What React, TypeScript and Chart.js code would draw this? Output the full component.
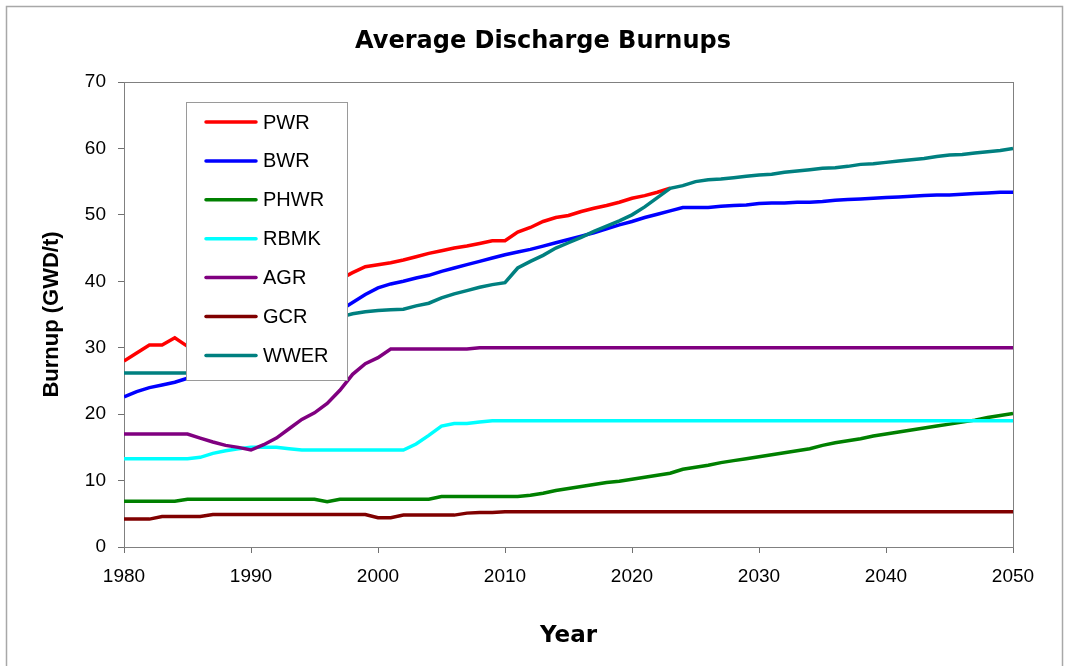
import React, { useEffect, useRef } from "react";
import { Chart, registerables } from "chart.js";

Chart.register(...registerables);

const TITLE = "Average Discharge Burnups";
const X_TITLE = "Year";
const Y_TITLE = "Burnup (GWD/t)";

const YEARS = [
  1980, 1981, 1982, 1983, 1984, 1985, 1986, 1987, 1988, 1989,
  1990, 1991, 1992, 1993, 1994, 1995, 1996, 1997, 1998, 1999,
  2000, 2001, 2002, 2003, 2004, 2005, 2006, 2007, 2008, 2009,
  2010, 2011, 2012, 2013, 2014, 2015, 2016, 2017, 2018, 2019,
  2020, 2021, 2022, 2023, 2024, 2025, 2026, 2027, 2028, 2029,
  2030, 2031, 2032, 2033, 2034, 2035, 2036, 2037, 2038, 2039,
  2040, 2041, 2042, 2043, 2044, 2045, 2046, 2047, 2048, 2049,
  2050,
];

const PWR = [
  28.0, 29.2, 30.4, 30.4, 31.5, 30.2, 31.0, 32.0, 33.0, 34.0,
  35.0, 35.8, 36.5, 37.2, 38.0, 38.8, 39.5, 40.3, 41.3, 42.2,
  42.5, 42.8, 43.2, 43.7, 44.2, 44.6, 45.0, 45.3, 45.7, 46.1,
  46.1, 47.4, 48.1, 49.0, 49.6, 49.9, 50.5, 51.0, 51.4, 51.9,
  52.5, 52.9, 53.4, 54.0, null, null, null, null, null, null,
  null, null, null, null, null, null, null, null, null, null,
  null, null, null, null, null, null, null, null, null, null,
  null,
];

const BWR = [
  22.6, 23.4, 24.0, 24.4, 24.8, 25.4, 26.2, 27.0, 27.8, 28.6,
  29.4, 30.2, 31.0, 31.8, 32.7, 33.6, 34.5, 35.6, 36.8, 38.0,
  39.0, 39.6, 40.0, 40.5, 40.9, 41.5, 42.0, 42.5, 43.0, 43.5,
  44.0, 44.4, 44.8, 45.3, 45.8, 46.3, 46.8, 47.3, 47.9, 48.5,
  49.0, 49.6, 50.1, 50.6, 51.1, 51.1, 51.1, 51.3, 51.4, 51.5,
  51.7, 51.8, 51.8, 51.9, 51.9, 52.0, 52.2, 52.3, 52.4, 52.5,
  52.6, 52.7, 52.8, 52.9, 53.0, 53.0, 53.1, 53.2, 53.3, 53.4,
  53.4,
];

const PHWR = [
  6.9, 6.9, 6.9, 6.9, 6.9, 7.2, 7.2, 7.2, 7.2, 7.2,
  7.2, 7.2, 7.2, 7.2, 7.2, 7.2, 6.8, 7.2, 7.2, 7.2,
  7.2, 7.2, 7.2, 7.2, 7.2, 7.6, 7.6, 7.6, 7.6, 7.6,
  7.6, 7.6, 7.8, 8.1, 8.5, 8.8, 9.1, 9.4, 9.7, 9.9,
  10.2, 10.5, 10.8, 11.1, 11.7, 12.0, 12.3, 12.7, 13.0, 13.3,
  13.6, 13.9, 14.2, 14.5, 14.8, 15.3, 15.7, 16.0, 16.3, 16.7,
  17.0, 17.3, 17.6, 17.9, 18.2, 18.5, 18.8, 19.1, 19.5, 19.8,
  20.1,
];

const RBMK = [
  13.3, 13.3, 13.3, 13.3, 13.3, 13.3, 13.5, 14.1, 14.5, 14.8,
  15.0, 15.0, 15.0, 14.8, 14.6, 14.6, 14.6, 14.6, 14.6, 14.6,
  14.6, 14.6, 14.6, 15.5, 16.8, 18.2, 18.6, 18.6, 18.8, 19.0,
  19.0, 19.0, 19.0, 19.0, 19.0, 19.0, 19.0, 19.0, 19.0, 19.0,
  19.0, 19.0, 19.0, 19.0, 19.0, 19.0, 19.0, 19.0, 19.0, 19.0,
  19.0, 19.0, 19.0, 19.0, 19.0, 19.0, 19.0, 19.0, 19.0, 19.0,
  19.0, 19.0, 19.0, 19.0, 19.0, 19.0, 19.0, 19.0, 19.0, 19.0,
  19.0,
];

const AGR = [
  17.0, 17.0, 17.0, 17.0, 17.0, 17.0, 16.4, 15.8, 15.3, 15.0,
  14.6, 15.4, 16.4, 17.8, 19.2, 20.2, 21.6, 23.6, 26.0, 27.6,
  28.5, 29.8, 29.8, 29.8, 29.8, 29.8, 29.8, 29.8, 30.0, 30.0,
  30.0, 30.0, 30.0, 30.0, 30.0, 30.0, 30.0, 30.0, 30.0, 30.0,
  30.0, 30.0, 30.0, 30.0, 30.0, 30.0, 30.0, 30.0, 30.0, 30.0,
  30.0, 30.0, 30.0, 30.0, 30.0, 30.0, 30.0, 30.0, 30.0, 30.0,
  30.0, 30.0, 30.0, 30.0, 30.0, 30.0, 30.0, 30.0, 30.0, 30.0,
  30.0,
];

const GCR = [
  4.2, 4.2, 4.2, 4.6, 4.6, 4.6, 4.6, 4.9, 4.9, 4.9,
  4.9, 4.9, 4.9, 4.9, 4.9, 4.9, 4.9, 4.9, 4.9, 4.9,
  4.4, 4.4, 4.8, 4.8, 4.8, 4.8, 4.8, 5.1, 5.2, 5.2,
  5.3, 5.3, 5.3, 5.3, 5.3, 5.3, 5.3, 5.3, 5.3, 5.3,
  5.3, 5.3, 5.3, 5.3, 5.3, 5.3, 5.3, 5.3, 5.3, 5.3,
  5.3, 5.3, 5.3, 5.3, 5.3, 5.3, 5.3, 5.3, 5.3, 5.3,
  5.3, 5.3, 5.3, 5.3, 5.3, 5.3, 5.3, 5.3, 5.3, 5.3,
  5.3,
];

const WWER = [
  26.2, 26.2, 26.2, 26.2, 26.2, 26.2, 26.5, 27.0, 27.8, 28.6,
  29.4, 30.2, 31.0, 31.8, 32.6, 33.4, 34.0, 34.6, 35.1, 35.4,
  35.6, 35.7, 35.8, 36.3, 36.7, 37.5, 38.1, 38.6, 39.1, 39.5,
  39.8, 42.0, 43.0, 43.9, 45.0, 45.8, 46.6, 47.5, 48.3, 49.1,
  50.0, 51.2, 52.6, 54.0, 54.4, 55.0, 55.3, 55.4, 55.6, 55.8,
  56.0, 56.1, 56.4, 56.6, 56.8, 57.0, 57.1, 57.3, 57.6, 57.7,
  57.9, 58.1, 58.3, 58.5, 58.8, 59.0, 59.1, 59.3, 59.5, 59.7,
  60.0,
];

const SERIES_NAMES = ["PWR", "BWR", "PHWR", "RBMK", "AGR", "GCR", "WWER"];
const SERIES_VALUES = [PWR, BWR, PHWR, RBMK, AGR, GCR, WWER];
const SERIES_COLORS = ["#ff0000", "#0000ff", "#008000", "#00ffff", "#800080", "#800000", "#008080"];

const X_MIN = 1980;
const X_MAX = 2050;
const X_STEP = 10;
const Y_MIN = 0;
const Y_MAX = 70;
const Y_STEP = 10;

const framePlugin = {
  id: "framePlugin",
  beforeDraw(chart: any) {
    const { ctx, width, height } = chart;
    ctx.save();
    ctx.fillStyle = "#ffffff";
    ctx.fillRect(0, 0, width, height);
    ctx.strokeStyle = "#a8a8a8";
    ctx.lineWidth = 1.5;
    ctx.strokeRect(6.5, 6.5, 1056, 720);
    ctx.restore();
  },
  beforeDatasetsDraw(chart: any) {
    const { ctx, chartArea } = chart;
    ctx.save();
    ctx.strokeStyle = "#808080";
    ctx.lineWidth = 1;
    ctx.strokeRect(
      Math.round(chartArea.left) + 0.5,
      Math.round(chartArea.top) + 0.5,
      Math.round(chartArea.right - chartArea.left),
      Math.round(chartArea.bottom - chartArea.top)
    );
    ctx.restore();
  },
  afterDatasetsDraw(chart: any) {
    const { ctx } = chart;
    const boxL = 186, boxT = 102, boxW = 161, boxH = 278;
    ctx.save();
    ctx.fillStyle = "#ffffff";
    ctx.fillRect(boxL, boxT, boxW, boxH);
    ctx.strokeStyle = "#9a9a9a";
    ctx.lineWidth = 1;
    ctx.strokeRect(boxL + 0.5, boxT + 0.5, boxW, boxH);
    ctx.font = '20px "Liberation Sans", Arial, sans-serif';
    ctx.textBaseline = "middle";
    ctx.textAlign = "left";
    chart.data.datasets.forEach((ds: any, i: number) => {
      const y = 122 + i * 38.9;
      ctx.strokeStyle = ds.borderColor;
      ctx.lineWidth = 3.5;
      ctx.lineCap = "round";
      ctx.beginPath();
      ctx.moveTo(206, y);
      ctx.lineTo(256, y);
      ctx.stroke();
      ctx.fillStyle = "#000000";
      ctx.fillText(ds.label, 263, y + 1);
    });
    ctx.restore();
  },
  afterDraw(chart: any) {
    const { ctx } = chart;
    ctx.save();
    ctx.font = 'bold 24px "DejaVu Sans", sans-serif';
    ctx.fillStyle = "#000000";
    ctx.textAlign = "center";
    ctx.textBaseline = "middle";
    ctx.fillText(TITLE, 543, 42);
    ctx.restore();
  },
};

export default function App() {
  const canvasRef = useRef<HTMLCanvasElement | null>(null);

  useEffect(() => {
    if (!canvasRef.current) return;
    const datasets = SERIES_NAMES.map((name, i) => ({
      label: name,
      data: YEARS.map((yr, j) => ({ x: yr, y: SERIES_VALUES[i][j] })),
      borderColor: SERIES_COLORS[i],
      backgroundColor: SERIES_COLORS[i],
      borderWidth: 3.5,
      pointRadius: 0,
      tension: 0,
      fill: false,
      spanGaps: false,
      order: SERIES_NAMES.length - i,
    }));

    const chart = new Chart(canvasRef.current, {
      type: "line",
      data: { datasets },
      plugins: [framePlugin],
      options: {
        animation: false,
        responsive: false,
        maintainAspectRatio: false,
        devicePixelRatio: 1,
        layout: { padding: { left: 20, right: 56, top: 82, bottom: 0 } },
        plugins: {
          legend: { display: false },
          title: { display: false },
          tooltip: { enabled: false },
        },
        scales: {
          x: {
            type: "linear",
            min: X_MIN,
            max: X_MAX,
            afterFit: (scale: any) => {
              scale.height = 119;
            },
            ticks: {
              stepSize: X_STEP,
              color: "#000000",
              padding: 12,
              font: { family: '"Liberation Sans", Arial, sans-serif', size: 19 },
              callback: (v: any) => String(v),
            },
            grid: {
              display: true,
              drawOnChartArea: false,
              drawTicks: true,
              tickLength: 6,
              color: "#707070",
            },
            border: { display: true, color: "#707070", width: 1 },
            title: {
              display: true,
              text: X_TITLE,
              color: "#000000",
              font: { family: '"DejaVu Sans", sans-serif', size: 23, weight: "bold" },
              padding: { top: 0, bottom: 16 },
            },
          },
          y: {
            type: "linear",
            min: Y_MIN,
            max: Y_MAX,
            afterFit: (scale: any) => {
              scale.width = 104;
            },
            ticks: {
              stepSize: Y_STEP,
              color: "#000000",
              padding: 12,
              font: { family: '"Liberation Sans", Arial, sans-serif', size: 19 },
            },
            grid: {
              display: true,
              drawOnChartArea: false,
              drawTicks: true,
              tickLength: 6,
              color: "#707070",
            },
            border: { display: true, color: "#707070", width: 1 },
            title: {
              display: true,
              text: Y_TITLE,
              color: "#000000",
              font: { family: '"Liberation Sans", Arial, sans-serif', size: 22, weight: "bold" },
              padding: { top: 19, bottom: 0 },
            },
          },
        },
      },
    } as any);

    return () => {
      chart.destroy();
    };
  }, []);

  return (
    <div style={{ position: "fixed", left: 0, top: 0, width: 1069, height: 666, background: "#fff" }}>
      <canvas ref={canvasRef} width={1069} height={666} style={{ display: "block", width: 1069, height: 666 }} />
    </div>
  );
}
